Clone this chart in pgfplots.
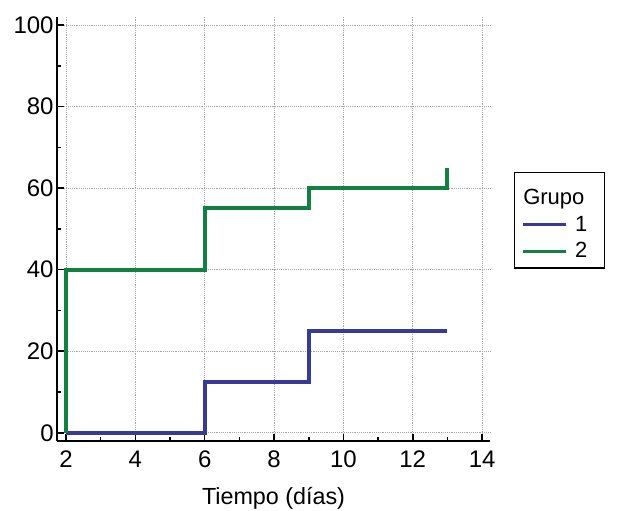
\documentclass[border=0pt]{standalone}
\usepackage{pgfplots}
\pgfplotsset{compat=1.18}
\usepackage{fontspec}
\setmainfont{Liberation Sans}
\definecolor{gblue}{RGB}{56,58,152}
\definecolor{ggreen}{RGB}{18,128,64}
\begin{document}
\begin{tikzpicture}
\begin{axis}[
  name=ax,
  scale only axis,
  width=325pt, height=318pt,
  xmin=1.74, xmax=14.23,
  ymin=-1.96, ymax=101.96,
  axis x line=bottom, axis y line=left,
  axis line style={-, line width=1.6pt, black},
  xtick={2,4,...,14}, ytick={0,20,...,100},
  minor x tick num=1, minor y tick num=1,
  tick align=inside,
  major tick length=5pt, minor tick length=3pt,
  every tick/.style={black, line width=1.2pt},
  grid=major,
  major grid style={densely dotted, gray!70, line width=0.6pt},
  /pgf/number format/assume math mode=true,
  ticklabel style={font=\fontsize{18}{21}\selectfont},
  xticklabel style={yshift=-4pt},
  yticklabel style={xshift=1pt},
  label style={font=\fontsize{17.5}{20}\selectfont},
  xlabel={Tiempo (días)},
  xlabel style={yshift=-8pt},
  clip=false,
  legend style={at={([xshift=18pt]axis description cs:1,0.634)}, anchor=north west,
    draw=black, line width=1pt, font=\fontsize{16.5}{19}\selectfont,
    inner xsep=5pt, inner ysep=4pt, row sep=3pt, cells={anchor=west}},
  legend image code/.code={\draw[#1, line width=2.4pt] (0pt,0pt) -- (32pt,0pt);},
]
\addlegendimage{empty legend}
\addlegendentry{\hspace{-35pt}\rule{0pt}{18pt}Grupo}
\addplot[const plot, gblue, line width=3pt] coordinates {(2,0) (6,12.5) (9,25) (13,25)};
\addlegendentry{\kern4pt 1\kern6pt}
\addplot[const plot, ggreen, line width=3pt] coordinates {(2,0) (2,40) (6,55) (9,60) (13,60) (13,65)};
\addlegendentry{\kern4pt 2\kern6pt}
\end{axis}
\pgfresetboundingbox
\path[use as bounding box] ([xshift=-42.75pt,yshift=-52.5pt]ax.south west) rectangle ([xshift=95.25pt,yshift=12.75pt]ax.north east);
\end{tikzpicture}
\end{document}
